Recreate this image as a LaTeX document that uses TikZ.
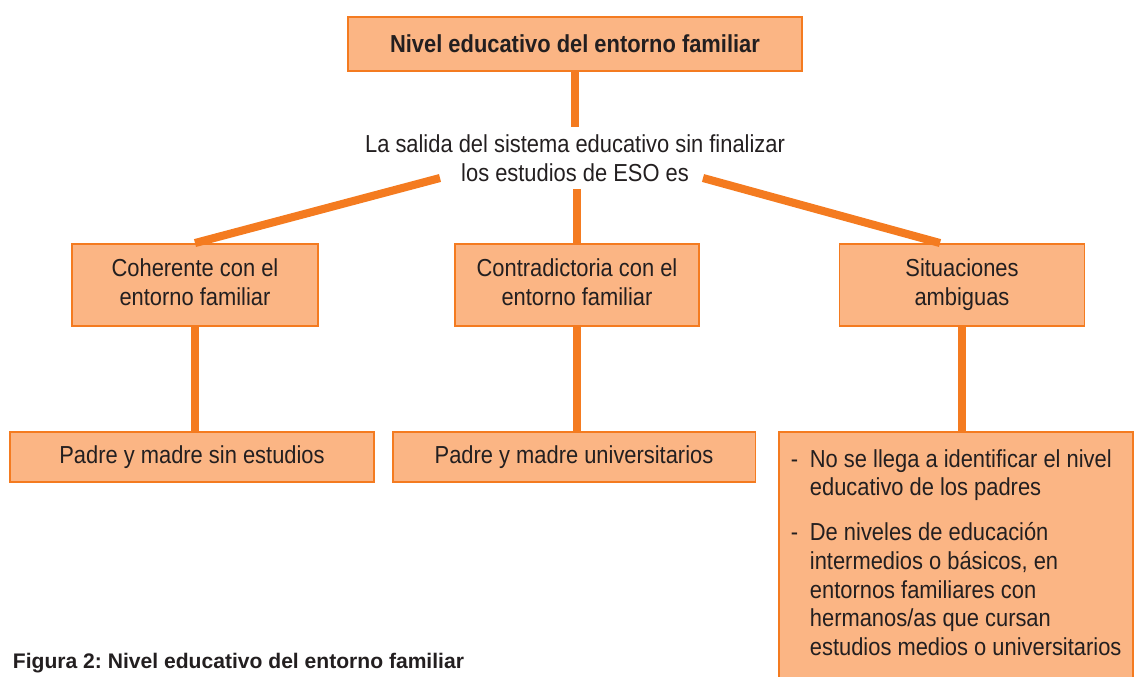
\documentclass[tikz,border=0pt]{standalone}
\usepackage{fontspec}
\setmainfont{Liberation Sans}[FakeStretch=0.89]
\newfontfamily\piefont{Liberation Sans}
\definecolor{naranja}{HTML}{F47B20}
\definecolor{relleno}{HTML}{FBB584}
\definecolor{texto}{HTML}{231F20}
\frenchspacing
\begin{document}
\begin{tikzpicture}[x=0.02cm,y=-0.02cm,line width=1.1pt,
  font=\fontsize{14}{16.4}\selectfont,
  caja/.style={draw=naranja,fill=relleno,text=texto,align=center,inner sep=0pt},
  union/.style={draw=naranja,line width=4.6pt}]
\useasboundingbox (0,0) rectangle (1134,677);
% top box
\node [caja,minimum width=9.08cm,minimum height=1.08cm,font=\fontsize{14}{16.4}\selectfont\bfseries] (nivel) at (575,44) {Nivel educativo del entorno familiar};
% question
\node [text=texto,align=center,inner sep=4pt] (pregunta) at (575,158) {La salida del sistema educativo sin finalizar\\los estudios de ESO es};
\coordinate (qizq) at (440,178);
\coordinate (qder) at (703,178);
% middle row
\node [caja,minimum width=4.92cm,minimum height=1.64cm] (coherente) at (195,285) {\strut Coherente con el\\\strut entorno familiar};
\node [caja,minimum width=4.88cm,minimum height=1.64cm] (contra) at (577,285) {\strut Contradictoria con el\\\strut entorno familiar};
\node [caja,minimum width=4.9cm,minimum height=1.64cm] (ambiguas) at (962,285) {\strut Situaciones\\\strut ambiguas};
% bottom row
\node [caja,minimum width=7.28cm,minimum height=1.0cm] (sinest) at (192,457) {Padre y madre sin estudios};
\node [caja,minimum width=7.26cm,minimum height=1.0cm] (univ) at (574,457) {Padre y madre universitarios};
\draw [naranja,fill=relleno] (779,432) rectangle (1133,700);
\coordinate (lista) at (962,432);
\node [text=texto,anchor=base west,inner sep=0pt] (items) at (790,467) {%
  \begin{tabular}[t]{@{}l@{}l@{}}
  \makebox[10.8pt][l]{-} & No se llega a identificar el nivel\\
   & educativo de los padres\\[9pt]
  - & De niveles de educación\\
   & intermedios o básicos, en\\
   & entornos familiares con\\
   & hermanos/as que cursan\\
   & estudios medios o universitarios
  \end{tabular}};
% connectors
\draw [union] (nivel.south) -- (pregunta.north);
\draw [union] (qizq) -- (coherente.north);
\draw [union] (contra.north |- pregunta.south) -- (contra.north);
\draw [union] (qder) -- ([xshift=-0.44cm]ambiguas.north);
\draw [union] (coherente.south) -- (coherente.south |- sinest.north);
\draw [union] (contra.south) -- (contra.south |- univ.north);
\draw [union] (ambiguas.south) -- (lista);
% caption
\node [anchor=base west,inner sep=0pt,text=texto,font=\piefont\fontsize{12}{14}\selectfont\bfseries] (pie) at (12,668) {Figura 2: Nivel educativo del entorno familiar};
\end{tikzpicture}
\end{document}
